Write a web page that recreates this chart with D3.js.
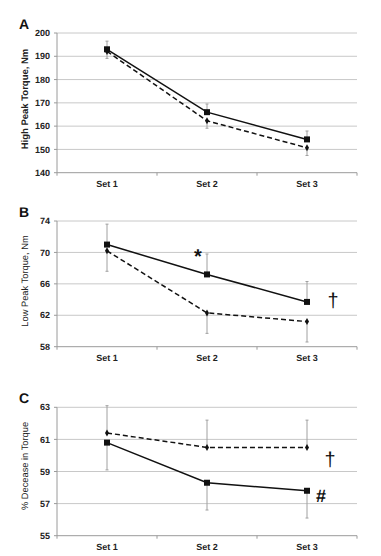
<!DOCTYPE html>
<html><head><meta charset="utf-8">
<script src="https://cdn.jsdelivr.net/npm/d3@7"></script>
<style>html,body{margin:0;padding:0;background:#fff;}svg{display:block;}text{text-rendering:geometricPrecision;}</style>
</head><body>
<script>
const categories = ["Set 1", "Set 2", "Set 3"];

const panelLetters = ["A", "B", "C"];
const axisTitles = ["High Peak Torque, Nm", "Low Peak Torque, Nm", "% Decease in Torque"];

const ticksA = [140, 150, 160, 170, 180, 190, 200];
const ticksB = [58, 62, 66, 70, 74];
const ticksC = [55, 57, 59, 61, 63];

// solid series (squares), dashed series (diamonds)
const solidA = [193.0, 166.0, 154.3];
const solidAErr = [3.5, 3.5, 3.6];
const dashedA = [192.1, 162.3, 150.7];
const dashedAErr = [3.0, 3.2, 3.3];

const solidB = [71.0, 67.2, 63.7];
const solidBErr = [2.6, 2.6, 2.6];
const dashedB = [70.2, 62.3, 61.2];
const dashedBErr = [2.6, 2.6, 2.6];

const solidC = [60.8, 58.3, 57.8];
const solidCErr = [1.7, 1.7, 1.7];
const dashedC = [61.4, 60.5, 60.5];
const dashedCErr = [1.7, 1.7, 1.7];

// error bar direction: +1 upward, -1 downward
const solidDir = [1, 1, -1];
const dashedDir = [-1, -1, 1];

const annotations = [
  [],
  [{cat: "Set 2", val: 69.6, text: "*", dx: -9, size: 20, weight: "bold"}, {cat: "Set 3", val: 64.0, text: "\u2020", dx: 26, size: 20, weight: "normal"}],
  [{cat: "Set 3", val: 59.8, text: "\u2020", dx: 23, size: 20, weight: "normal"}, {cat: "Set 3", val: 57.5, text: "#", dx: 14, size: 18, weight: "bold"}]
];

const panels = [
  {ticks: ticksA, solid: solidA, solidErr: solidAErr, dashed: dashedA, dashedErr: dashedAErr, top: 33, bottom: 172.7, titleY: 99},
  {ticks: ticksB, solid: solidB, solidErr: solidBErr, dashed: dashedB, dashedErr: dashedBErr, top: 221, bottom: 346.7, titleY: 281},
  {ticks: ticksC, solid: solidC, solidErr: solidCErr, dashed: dashedC, dashedErr: dashedCErr, top: 407.3, bottom: 535.7, titleY: 466}
];

const W = 381, H = 556;
const svg = d3.select("body").append("svg").attr("width", W).attr("height", H)
  .style("font-family", "'Liberation Sans', Arial, sans-serif");

const left = 57, right = 357;
const x = d3.scaleBand().domain(categories).range([left, right]).padding(0);

panels.forEach((p, i) => {
  const g = svg.append("g");
  const y = d3.scaleLinear().domain(d3.extent(p.ticks)).range([p.bottom, p.top]);
  const cx = c => x(c) + x.bandwidth() / 2;

  // gridlines
  g.selectAll(".grid").data(p.ticks.slice(1)).join("line")
    .attr("x1", left).attr("x2", right)
    .attr("y1", d => y(d)).attr("y2", d => y(d))
    .attr("stroke", "#c8c8c8").attr("stroke-width", 1);

  // y axis line
  g.append("line").attr("x1", left).attr("x2", left).attr("y1", p.top).attr("y2", p.bottom)
    .attr("stroke", "#9a9a9a").attr("stroke-width", 1);
  // x axis line
  g.append("line").attr("x1", left).attr("x2", right).attr("y1", p.bottom).attr("y2", p.bottom)
    .attr("stroke", "#9a9a9a").attr("stroke-width", 1);
  // x tick marks at band boundaries
  const bounds = categories.map(c => x(c)).concat([right]);
  g.selectAll(".xt").data(bounds).join("line")
    .attr("x1", d => d).attr("x2", d => d)
    .attr("y1", p.bottom).attr("y2", p.bottom + 3)
    .attr("stroke", "#9a9a9a");
  // y tick marks
  g.selectAll(".yt").data(p.ticks).join("line")
    .attr("x1", left - 3).attr("x2", left)
    .attr("y1", d => y(d)).attr("y2", d => y(d))
    .attr("stroke", "#9a9a9a");

  // y tick labels
  g.selectAll(".yl").data(p.ticks).join("text")
    .attr("x", 50).attr("y", d => y(d)).attr("dy", "0.35em")
    .attr("text-anchor", "end").attr("font-size", 9).attr("font-weight", "bold")
    .attr("fill", "#222").text(d => d);

  // x tick labels
  g.selectAll(".xl").data(categories).join("text")
    .attr("x", d => cx(d)).attr("y", p.bottom + 14)
    .attr("text-anchor", "middle").attr("font-size", 9).attr("font-weight", "bold")
    .attr("fill", "#222").text(d => d);

  // panel letter
  g.append("text").attr("x", 19).attr("y", p.top - 4)
    .attr("font-size", 14).attr("font-weight", "bold").attr("fill", "#111")
    .text(panelLetters[i]);

  // y axis title
  g.append("text")
    .attr("transform", `translate(28,${p.titleY}) rotate(-90)`)
    .attr("text-anchor", "middle").attr("font-size", i === 0 ? 9.5 : 9.3)
    .attr("font-weight", i === 0 ? "bold" : "normal")
    .attr("fill", "#222").text(axisTitles[i]);

  // error bars
  const errs = [];
  categories.forEach((c, k) => {
    errs.push({c, v: p.solid[k], e: p.solidErr[k] * solidDir[i]});
    errs.push({c, v: p.dashed[k], e: p.dashedErr[k] * dashedDir[i]});
  });
  g.selectAll(".err").data(errs).join("line")
    .attr("x1", d => cx(d.c)).attr("x2", d => cx(d.c))
    .attr("y1", d => y(d.v)).attr("y2", d => y(d.v + d.e))
    .attr("stroke", "#a0a0a0").attr("stroke-width", 1);
  g.selectAll(".cap").data(errs).join("line")
    .attr("x1", d => cx(d.c) - 1.5).attr("x2", d => cx(d.c) + 1.5)
    .attr("y1", d => y(d.v + d.e)).attr("y2", d => y(d.v + d.e))
    .attr("stroke", "#a0a0a0").attr("stroke-width", 1);

  const line = d3.line().x((d, k) => cx(categories[k])).y(d => y(d));

  // dashed series
  g.append("path").datum(p.dashed).attr("d", line)
    .attr("fill", "none").attr("stroke", "#111").attr("stroke-width", 1.5)
    .attr("stroke-dasharray", "5,3");
  g.selectAll(".dm").data(p.dashed).join("path")
    .attr("d", d3.symbol(d3.symbolDiamond, 14))
    .attr("transform", (d, k) => `translate(${cx(categories[k])},${y(d)})`)
    .attr("fill", "#111");

  // solid series
  g.append("path").datum(p.solid).attr("d", line)
    .attr("fill", "none").attr("stroke", "#111").attr("stroke-width", 1.5);
  g.selectAll(".sm").data(p.solid).join("rect")
    .attr("x", (d, k) => cx(categories[k]) - 3).attr("y", d => y(d) - 3)
    .attr("width", 6).attr("height", 6).attr("fill", "#111");

  // annotations
  g.selectAll(".ann").data(annotations[i]).join("text")
    .attr("x", d => cx(d.cat) + d.dx).attr("y", d => y(d.val))
    .attr("text-anchor", "middle").attr("dy", "0.35em")
    .attr("font-size", d => d.size).attr("font-weight", d => d.weight).attr("fill", "#111")
    .text(d => d.text);
});
</script>
</body></html>
